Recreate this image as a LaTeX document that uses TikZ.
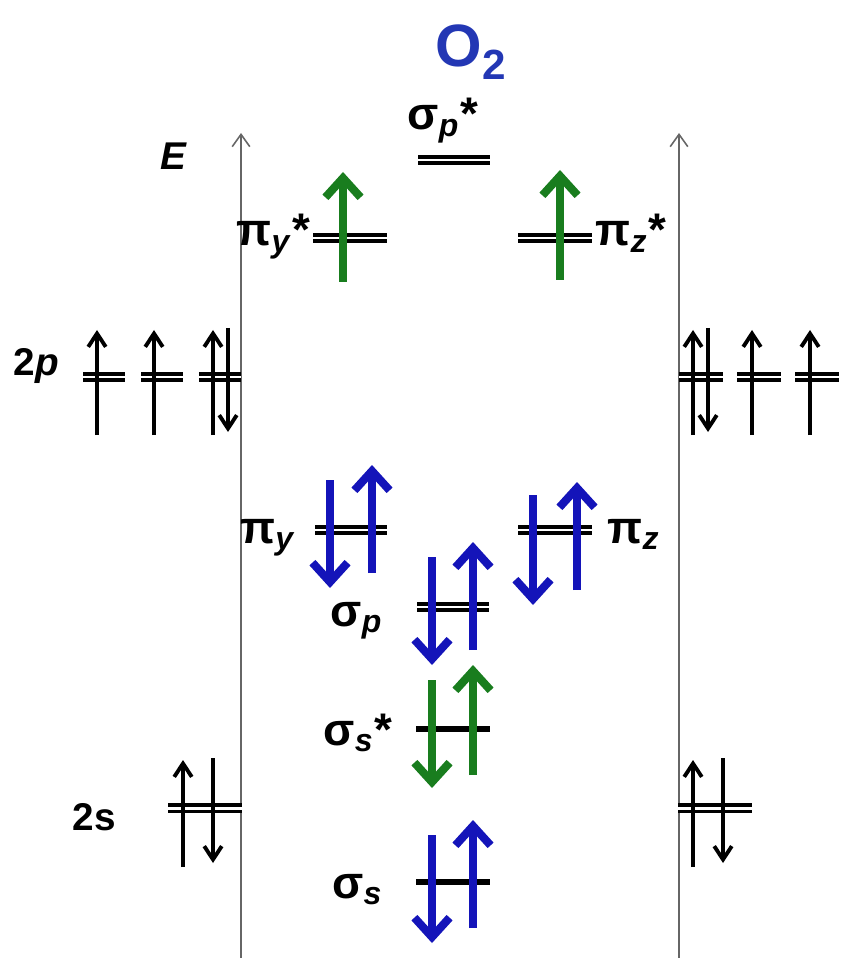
\documentclass[tikz,border=0pt]{standalone}
\usepackage{fontspec}
\setmainfont{Liberation Sans}
\usetikzlibrary{arrows.meta}
\definecolor{eBlue}{RGB}{20,20,185}
\definecolor{eGreen}{RGB}{25,125,30}
\definecolor{tBlue}{RGB}{35,55,180}
\tikzset{
  axis/.style={draw=black!60, line width=0.45pt, -{Straight Barb[length=3.5pt,width=5pt]}},
  orb/.style={draw=black, double=white, double distance=0.85pt, line width=1.1pt},
  sorb/.style={draw=black, line width=1.5pt},
  spin/.style={black, line width=1.1pt, -{Straight Barb[length=3.8pt,width=5pt]}},
  elec/.style={line width=2.3pt, -{Straight Barb[length=5.5pt,width=10pt]}},
  lbl/.style={font=\fontsize{13}{15}\selectfont\bfseries, inner sep=0pt},
  atm/.style={font=\fontsize{11}{13}\selectfont\bfseries, inner sep=0pt}
}
\begin{document}
\begin{tikzpicture}[x=0.01cm, y=-0.01cm]
\useasboundingbox (0,0) rectangle (841,958);
% energy axes
\coordinate (lbot) at (241,958);
\coordinate (ltop) at (241,133);
\coordinate (rbot) at (679,958);
\coordinate (rtop) at (679,133);
\draw[axis] (lbot) -- (ltop);
\draw[axis] (rbot) -- (rtop);
\node[font=\fontsize{17}{19}\selectfont\bfseries, text=tBlue, inner sep=0pt, anchor=base west] (title) at (435,67) {O\raisebox{-0.4ex}{\fontsize{12}{12}\selectfont 2}};
\node[atm, anchor=base west] (elbl) at (160,170) {\textit{E}};
% molecular orbital levels
\coordinate (sps) at (454,160);
\coordinate (pys) at (350,238);
\coordinate (pzs) at (555,238);
\coordinate (py) at (351,530);
\coordinate (pz) at (555,530);
\coordinate (sp) at (453,607);
\coordinate (sss) at (453,729);
\coordinate (ss) at (453,882);
\draw[orb] (sps) ++(-36,0) -- ++(72,0);
\draw[orb] (pys) ++(-37,0) -- ++(74,0);
\draw[orb] (pzs) ++(-37,0) -- ++(74,0);
\draw[orb] (py) ++(-36,0) -- ++(72,0);
\draw[orb] (pz) ++(-37,0) -- ++(74,0);
\draw[orb] (sp) ++(-36,0) -- ++(72,0);
\draw[sorb] (sss) ++(-37,0) -- ++(74,0);
\draw[sorb] (ss) ++(-37,0) -- ++(74,0);
\node[lbl, anchor=base west] (spslbl) at (407,130) {σ\textsubscript{\textit{p}}*};
\node[lbl, anchor=base east] (pyslbl) at (311,246) {π\textsubscript{\textit{y}}*};
\node[lbl, anchor=base west] (pzslbl) at (595,246) {π\textsubscript{\textit{z}}*};
\node[lbl, anchor=base east] (pylbl) at (297,543) {π\textsubscript{\textit{y}}};
\node[lbl, anchor=base west] (pzlbl) at (607,543) {π\textsubscript{\textit{z}}};
\node[lbl, anchor=base east] (splbl) at (384,626) {σ\textsubscript{\textit{p}}};
\node[lbl, anchor=base east] (ssslbl) at (393,745) {σ\textsubscript{\textit{s}}*};
\node[lbl, anchor=base east] (sslbl) at (384,898) {σ\textsubscript{\textit{s}}};
% electrons
\draw[elec, eGreen] (pys) ++(-7,44) -- ++(0,-110);
\draw[elec, eGreen] (pzs) ++(5,42) -- ++(0,-110);
\draw[elec, eBlue] (py) ++(-21,-50) -- ++(0,108);
\draw[elec, eBlue] (py) ++(21,43) -- ++(0,-108);
\draw[elec, eBlue] (pz) ++(-22,-35) -- ++(0,110);
\draw[elec, eBlue] (pz) ++(22,60) -- ++(0,-108);
\draw[elec, eBlue] (sp) ++(-21,-50) -- ++(0,108);
\draw[elec, eBlue] (sp) ++(20,43) -- ++(0,-108);
\draw[elec, eGreen] (sss) ++(-21,-49) -- ++(0,108);
\draw[elec, eGreen] (sss) ++(20,46) -- ++(0,-110);
\draw[elec, eBlue] (ss) ++(-21,-47) -- ++(0,108);
\draw[elec, eBlue] (ss) ++(20,46) -- ++(0,-108);
% atomic orbitals, left
\coordinate (lpa) at (104,377);
\coordinate (lpb) at (162,377);
\coordinate (lpc) at (220,377);
\coordinate (ls) at (205,808);
\draw[orb] (lpa) ++(-21,0) -- ++(42,0);
\draw[orb] (lpb) ++(-21,0) -- ++(42,0);
\draw[orb] (lpc) ++(-21,0) -- ++(42,0);
\draw[orb] (ls) ++(-37,0) -- ++(74,0);
\draw[spin] (lpa) ++(-7,58) -- ++(0,-105);
\draw[spin] (lpb) ++(-8,58) -- ++(0,-105);
\draw[spin] (lpc) ++(-7,58) -- ++(0,-105);
\draw[spin] (lpc) ++(8,-49) -- ++(0,104);
\draw[spin] (ls) ++(-22,59) -- ++(0,-107);
\draw[spin] (ls) ++(8,-50) -- ++(0,105);
\node[atm, anchor=base west] (lplbl) at (13,376) {2\textit{p}};
\node[atm, anchor=base west] (lslbl) at (72,830) {2s};
% atomic orbitals, right
\coordinate (rpa) at (701,377);
\coordinate (rpb) at (759,377);
\coordinate (rpc) at (817,377);
\coordinate (rs) at (715,808);
\draw[orb] (rpa) ++(-22,0) -- ++(44,0);
\draw[orb] (rpb) ++(-22,0) -- ++(44,0);
\draw[orb] (rpc) ++(-22,0) -- ++(44,0);
\draw[orb] (rs) ++(-37,0) -- ++(74,0);
\draw[spin] (rpa) ++(-8,58) -- ++(0,-105);
\draw[spin] (rpa) ++(7,-49) -- ++(0,104);
\draw[spin] (rpb) ++(-7,58) -- ++(0,-105);
\draw[spin] (rpc) ++(-7,58) -- ++(0,-105);
\draw[spin] (rs) ++(-22,59) -- ++(0,-107);
\draw[spin] (rs) ++(8,-50) -- ++(0,105);
\end{tikzpicture}
\end{document}
